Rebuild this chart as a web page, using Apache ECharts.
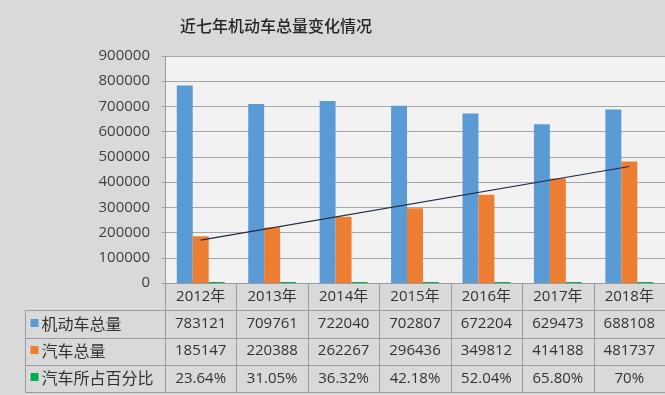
<!DOCTYPE html>
<html>
<head>
<meta charset="utf-8">
<script src="https://cdn.jsdelivr.net/npm/echarts@6/dist/echarts.min.js"></script>
<style>
html,body{margin:0;padding:0;background:#d9d9d9;}
#chart{width:665px;height:395px;}
</style>
</head>
<body>
<div id="chart"></div>
<script>
// ---- data ----
const years = ['2012年','2013年','2014年','2015年','2016年','2017年','2018年'];
const motorTotal = [783121, 709761, 722040, 702807, 672204, 629473, 688108];
const carTotal = [185147, 220388, 262267, 296436, 349812, 414188, 481737];
const carShare = [23.64, 31.05, 36.32, 42.18, 52.04, 65.80, 70];
const carShareText = ['23.64%','31.05%','36.32%','42.18%','52.04%','65.80%','70%'];
const seriesNames = ['机动车总量','汽车总量','汽车所占百分比'];
const trendEnds = [170000, 462000]; // trend line value at 2012 and at 2018
const yMin = 0, yMax = 900000, yInterval = 100000;

const colors = ['#5b9bd5','#ed7d31','#00b050'];
const numFont = '"Open Sans","Noto Sans CJK SC",sans-serif';
const cjkFont = '"Noto Sans CJK SC",sans-serif';

// table rows
const rowKeys = ['hdr'].concat(seriesNames);
const rowTexts = [
  years,
  motorTotal.map(String),
  carTotal.map(String),
  carShareText
];
const cells = [];
rowTexts.forEach((arr, r) => {
  arr.forEach((t, c) => cells.push({value:[c, r], text:t, kind:'cell'}));
  if (r > 0) cells.push({value:[0, r], text:seriesNames[r-1], kind:'label', color:colors[r-1]});
});
const labelColWidth = 140;

const trendData = years.map((_, i) => i === 0 ? trendEnds[0] : (i === years.length - 1 ? trendEnds[1] : null));

const chart = echarts.init(document.getElementById('chart'), null, {renderer:'canvas'});
chart.setOption({
  animation:false,
  backgroundColor:'#d9d9d9',
  title:{
    text:'近七年机动车总量变化情况',
    left:175, top:13,
    textStyle:{fontSize:16, fontWeight:500, color:'#262626', fontFamily:cjkFont}
  },
  grid:[
    {left:165, top:56, width:504, height:227, show:true, backgroundColor:'#f2f2f2', borderWidth:0},
    {left:165, top:283, width:504, height:109, show:false}
  ],
  xAxis:[
    {type:'category', data:years, gridIndex:0,
     axisLine:{show:true, lineStyle:{color:'#9c9c9c'}},
     axisTick:{show:false}, axisLabel:{show:false}},
    {type:'category', data:years, gridIndex:1, show:false}
  ],
  yAxis:[
    {type:'value', gridIndex:0, min:yMin, max:yMax, interval:yInterval,
     axisLine:{show:true, lineStyle:{color:'#9c9c9c'}},
     axisTick:{show:true, length:3, lineStyle:{color:'#9c9c9c'}},
     axisLabel:{fontSize:15, color:'#404040', fontFamily:numFont, margin:15,
                formatter:function(v){ return String(v); }},
     splitLine:{lineStyle:{color:'#a6a6a6'}}},
    {type:'category', data:rowKeys, gridIndex:1, inverse:true, show:false}
  ],
  series:[
    {name:seriesNames[0], type:'bar', data:motorTotal, itemStyle:{color:colors[0]}, barGap:'0%', barCategoryGap:'33%'},
    {name:seriesNames[1], type:'bar', data:carTotal, itemStyle:{color:colors[1]}, barGap:'0%', barCategoryGap:'33%'},
    {name:seriesNames[2], type:'bar', data:carShare, itemStyle:{color:colors[2]}, barGap:'0%', barCategoryGap:'33%', barMinHeight:1},
    {name:'趋势线', type:'line', data:trendData, connectNulls:true, symbol:'none', z:5,
     lineStyle:{color:'#1f2a44', width:1.2}},
    {type:'custom', xAxisIndex:1, yAxisIndex:1, data:cells, encode:{x:0, y:1},
     renderItem:function(params, api){
       const cell = cells[params.dataIndex];
       const pt = api.coord([cell.value[0], cell.value[1]]);
       const sz = api.size([1, 1]);
       const cs = params.coordSys;
       let x0, w;
       if (cell.kind === 'label') { x0 = cs.x - labelColWidth; w = labelColWidth; }
       else { x0 = pt[0] - sz[0]/2; w = sz[0]; }
       const y0 = pt[1] - sz[1]/2, h = sz[1];
       const rx = Math.round(x0) + 0.5, ry = Math.round(y0) + 0.5;
       const rw = Math.round(x0 + w) - Math.round(x0), rh = Math.round(y0 + h) - Math.round(y0);
       const children = [{
         type:'rect', shape:{x:rx, y:ry, width:rw, height:rh},
         style:{fill:'none', stroke:'#9c9c9c', lineWidth:1}
       }];
       if (cell.kind === 'label') {
         children.push({type:'rect', shape:{x:rx + 5, y:Math.round(pt[1]) - 5, width:8, height:8},
                        style:{fill:cell.color}});
         children.push({type:'text', style:{text:cell.text, x:rx + 16, y:pt[1],
           textAlign:'left', textVerticalAlign:'middle', align:'left', verticalAlign:'middle',
           font:'16px ' + cjkFont, fill:'#333'}});
       } else {
         children.push({type:'text', style:{text:cell.text, x:pt[0], y:pt[1],
           textAlign:'center', textVerticalAlign:'middle', align:'center', verticalAlign:'middle',
           font:'15px ' + numFont, fill:'#333'}});
       }
       return {type:'group', children:children};
     }}
  ]
});
</script>
</body>
</html>
